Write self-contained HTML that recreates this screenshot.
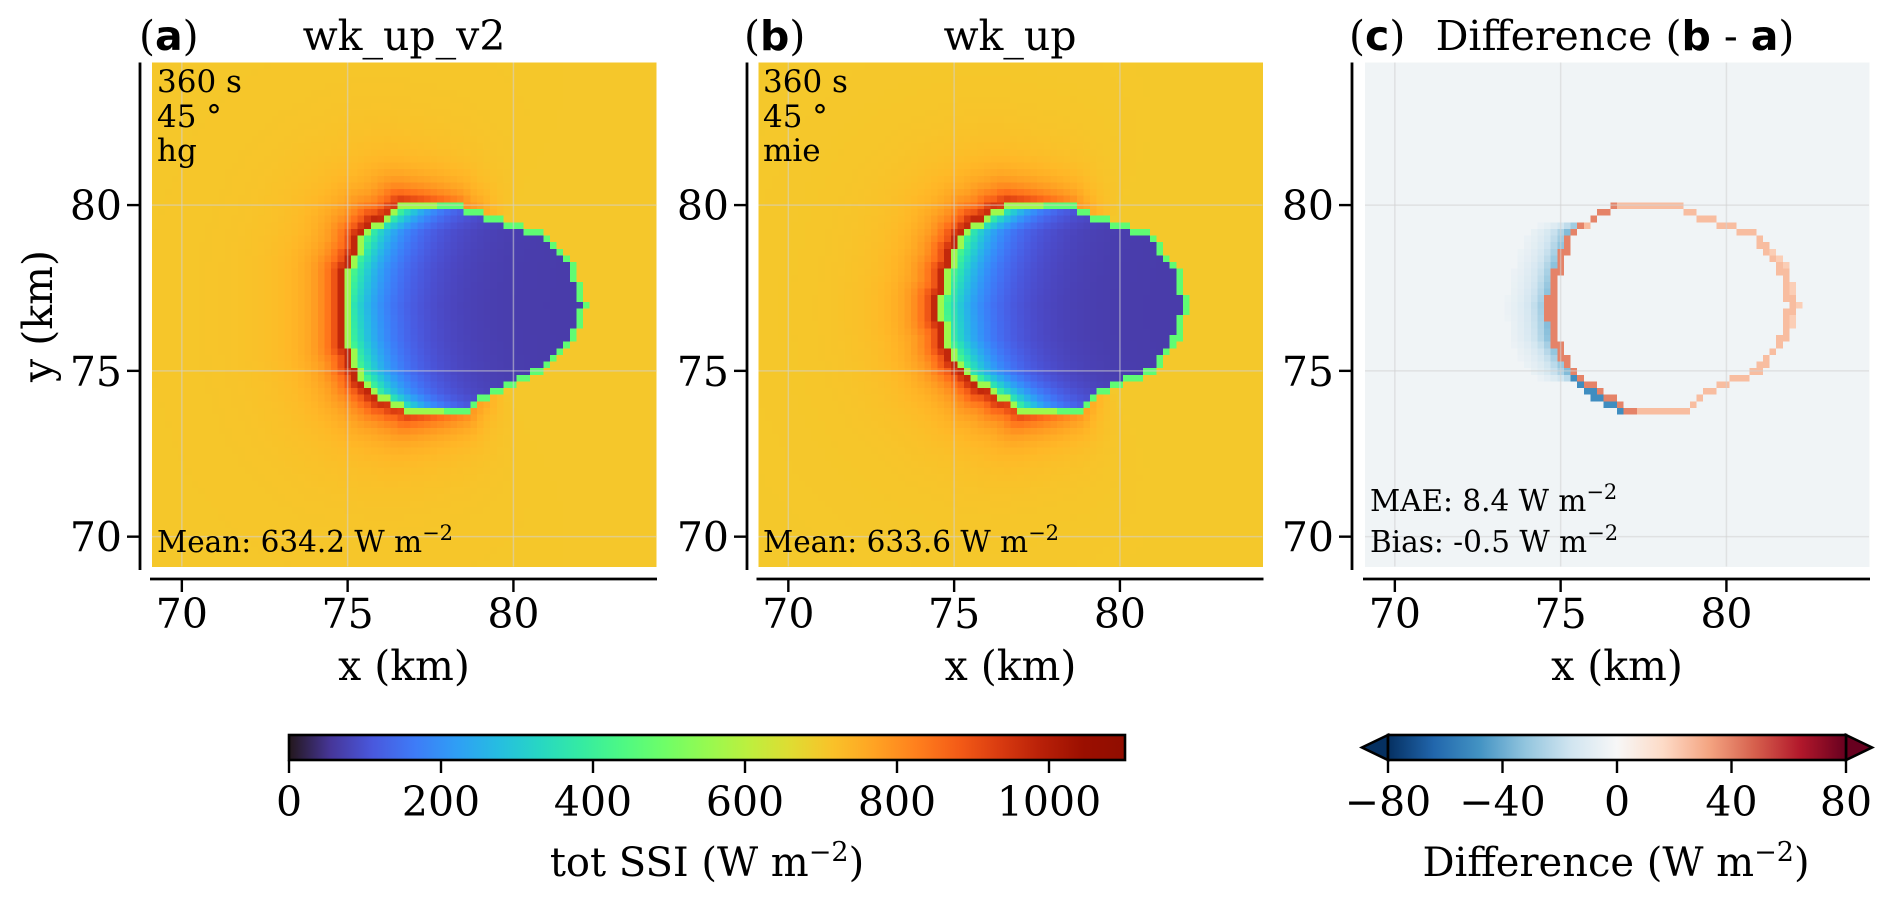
<!DOCTYPE html>
<html><head><meta charset="utf-8"><style>
html,body{margin:0;padding:0;background:#fff}
svg{display:block}
text{font-family:"DejaVu Serif","Liberation Serif",serif;fill:#000}
.b{font-family:"DejaVu Sans","Liberation Sans",sans-serif;font-weight:bold}
</style></head><body>
<svg id="fig" width="1892" height="901" viewBox="0 0 1892 901" xmlns="http://www.w3.org/2000/svg">
<defs>
<linearGradient id="turboGrad" x1="0" x2="1" y1="0" y2="0"></linearGradient>
<linearGradient id="rdbuGrad" x1="0" x2="1" y1="0" y2="0"></linearGradient>
</defs>
<g id="panels"></g>
<!-- titles -->
<text x="139" y="50" font-size="41">(<tspan class="b">a</tspan>)</text>
<text x="404" y="50" font-size="41" text-anchor="middle">wk_up_v2</text>
<text x="744" y="50" font-size="41">(<tspan class="b">b</tspan>)</text>
<text x="1010" y="50" font-size="41" text-anchor="middle">wk_up</text>
<text x="1349" y="50" font-size="41">(<tspan class="b">c</tspan>)</text>
<text x="1615" y="50" font-size="41" text-anchor="middle">Difference (<tspan class="b">b</tspan> - <tspan class="b">a</tspan>)</text>
<!-- annotations -->
<g font-size="31">
<text x="157" y="92">360 s</text>
<text x="157" y="127">45 °</text>
<text x="157" y="161">hg</text>
<text x="157" y="552" font-size="29.5">Mean: 634.2 W m<tspan dy="-12" font-size="21">−2</tspan></text>
<text x="763" y="92">360 s</text>
<text x="763" y="127">45 °</text>
<text x="763" y="161">mie</text>
<text x="763" y="552" font-size="29.5">Mean: 633.6 W m<tspan dy="-12" font-size="21">−2</tspan></text>
<text x="1370" y="511" font-size="29.5">MAE: 8.4 W m<tspan dy="-12" font-size="21">−2</tspan></text>
<text x="1370" y="552" font-size="29.5">Bias: -0.5 W m<tspan dy="-12" font-size="21">−2</tspan></text>
</g>
<text transform="translate(52,316) rotate(-90)" font-size="41" text-anchor="middle">y (km)</text>
<!-- colorbars -->
<g id="cbars"></g>
<text x="707" y="876" font-size="40" text-anchor="middle">tot SSI (W m<tspan dy="-15" font-size="27">−2</tspan><tspan dy="15">)</tspan></text>
<text x="1616" y="876" font-size="40" text-anchor="middle">Difference (W m<tspan dy="-15" font-size="27">−2</tspan><tspan dy="15">)</tspan></text>
</svg>
<script>
// ---- data ----
const xTicks = [70, 75, 80];
const yTicks = [70, 75, 80];
const ssiTicks = [0, 200, 400, 600, 800, 1000];
const diffTicks = [-80, -40, 0, 40, 80];
const shadowRowY = [80.0, 79.2, 78.1, 77.0, 76.0, 75.0, 74.35, 73.8];
const shadowLeftA = [76.6, 75.45, 75.0, 74.8, 74.9, 75.2, 75.7, 76.65];
const shadowRightA = [78.4, 80.9, 81.9, 82.2, 81.9, 80.95, 79.5, 78.7];
const shadowLeftB = [76.5, 75.2, 74.8, 74.55, 74.65, 75.2, 76.15, 76.95];
const shadowRightB = [78.6, 80.9, 81.8, 82.1, 81.8, 81.1, 79.5, 78.8];
const backgroundSSI = [705, 703];
const meanDiff = -3;

const NS = "http://www.w3.org/2000/svg";
const DMIN = 69.1, DMAX = 84.3, TOP = 62.5, SIZE = 504;
const panelLeft = [152, 758.5, 1365];
const spineX = [140, 747, 1352];
function X(p, km) { return panelLeft[p] + (km - DMIN) / (DMAX - DMIN) * SIZE; }
function Y(km) { return TOP + (DMAX - km) / (DMAX - DMIN) * SIZE; }
function turbo(t) {
  t = Math.max(0, Math.min(1, t));
  const r = 0.13572138 + t*(4.61539260 + t*(-42.66032258 + t*(132.13108234 + t*(-152.94239396 + t*59.28637943))));
  const g = 0.09140261 + t*(2.19418839 + t*(4.84296658 + t*(-14.18503333 + t*(4.27729857 + t*2.82956604))));
  const b = 0.10667330 + t*(12.64194608 + t*(-60.58204836 + t*(110.36276771 + t*(-89.90310912 + t*27.34824973))));
  const c = v => Math.round(Math.max(0, Math.min(1, v)) * 255);
  return `rgb(${c(r)},${c(g)},${c(b)})`;
}
const rdbuStops = ["#053061","#2166ac","#4393c3","#92c5de","#d1e5f0","#f7f7f7","#fddbc7","#f4a582","#d6604d","#b2182b","#67001f"];
function hex(h){return [parseInt(h.substr(1,2),16),parseInt(h.substr(3,2),16),parseInt(h.substr(5,2),16)];}
function rdbu(v) {
  let t = Math.max(0, Math.min(1, (v + 80) / 160)) * 10;
  const i = Math.min(9, Math.floor(t)), f = t - i;
  const a = hex(rdbuStops[i]), b = hex(rdbuStops[i+1]);
  return `rgb(${a.map((x,k)=>Math.round(x+(b[k]-x)*f)).join(",")})`;
}
function edges(yc, L, R) {
  if (yc > shadowRowY[0] + 0.1 || yc < shadowRowY[shadowRowY.length-1] - 0.1) return null;
  for (let i = 0; i < shadowRowY.length - 1; i++) {
    const y0 = shadowRowY[i], y1 = shadowRowY[i+1];
    if (yc <= y0 + 0.1 && yc >= y1) {
      const f = Math.max(0, Math.min(1, (y0 - yc) / (y0 - y1)));
      return [L[i] + (L[i+1]-L[i])*f, R[i] + (R[i+1]-R[i])*f];
    }
  }
  const n = shadowRowY.length - 1;
  return [L[n], R[n]];
}
const N = 76, STEP = 0.2;
const centers = []; for (let i = 0; i < N; i++) centers.push(DMIN + 0.1 + STEP * i);
function buildField(L, R, bg) {
  const mask = [], le = [];
  for (let j = 0; j < N; j++) {
    const e = edges(centers[j], L, R); le.push(e);
    mask.push(centers.map(x => e ? (x >= e[0] && x <= e[1]) : false));
  }
  const pts = [];
  for (let j = 0; j < N; j++) for (let i = 0; i < N; i++) if (mask[j][i]) pts.push([centers[i], centers[j]]);
  const val = [];
  for (let j = 0; j < N; j++) {
    const row = [];
    for (let i = 0; i < N; i++) {
      const x = centers[i], y = centers[j];
      if (mask[j][i]) {
        const e = le[j]; const d = x - e[0];
        let v = 65 + 440 * Math.exp(-d / 1.0);
        const rim = Math.min(x - e[0], e[1] - x) < 0.2 || !mask[j-1]?.[i] || !mask[j+1]?.[i];
        if (rim) v = Math.max(v, d < 1.2 ? 560 : 470);
        row.push(v);
      } else {
        let md = 1e9;
        for (const p of pts) { const dd = (p[0]-x)**2 + (p[1]-y)**2; if (dd < md) md = dd; }
        md = Math.sqrt(md);
        const dirx = (x - 78.3) / Math.max(0.1, Math.hypot(x - 78.3, y - 77));
        const fac = Math.max(0, Math.min(1, (0.5 - dirx) / 1.2));
        row.push(bg + 300 * fac * Math.exp(-md / 0.45) + 90 * fac * Math.exp(-md / 1.3));
      }
    }
    val.push(row);
  }
  return {val, mask, le};
}
const A = buildField(shadowLeftA, shadowRightA, backgroundSSI[0]);
const B = buildField(shadowLeftB, shadowRightB, backgroundSSI[1]);

const panels = document.getElementById("panels");
function mk(tag, attrs, parent) { const e = document.createElementNS(NS, tag); for (const k in attrs) e.setAttribute(k, attrs[k]); (parent||panels).appendChild(e); return e; }
const cs = SIZE / N;
function drawHeat(p, colorFn, valueAt, name) {
  const g = mk("g", {"shape-rendering": "crispEdges"});
  
  
  for (let j = 0; j < N; j++) for (let i = 0; i < N; i++) {
    const r = mk("rect", {x: (X(p, centers[i] - 0.1)).toFixed(2), y: (Y(centers[j] + 0.1)).toFixed(2), width: (cs + 0.6).toFixed(2), height: (cs + 0.6).toFixed(2), fill: colorFn(valueAt(j, i))}, g);
    
    
  }
}
drawHeat(0, v => turbo(v / 1100), (j, i) => A.val[j][i], 'ssi-heatmap-a');
drawHeat(1, v => turbo(v / 1100), (j, i) => B.val[j][i], 'ssi-heatmap-b');
drawHeat(2, rdbu, (j, i) => {
  const x = centers[i], y = centers[j];
  let v = meanDiff;
  const inA = A.mask[j][i], inB = B.mask[j][i];
  if (inB) {
    const e = B.le[j];
    const near = Math.min(x - e[0], e[1] - x);
    const vert = !B.mask[j-1]?.[i] || !B.mask[j+1]?.[i];
    if (near < 0.25 || vert) v = (x - e[0] < 0.25) ? 40 : 25;
  } else if (inA) v = (x > 78) ? 20 : -50;
  else {
    const e = B.le[j];
    if (e && x < e[0] && e[0] - x < 1.2 && y < 79.4 && y > 74.6) v = -35 * Math.exp(-(e[0] - x) / 0.6);
  }
  return v;
}, 'difference-heatmap');

// grid lines, axes
for (let p = 0; p < 3; p++) {
  for (const t of xTicks) { const l = mk("line", {x1: X(p,t), x2: X(p,t), y1: TOP, y2: TOP+SIZE, stroke: "rgba(210,210,210,0.55)", "stroke-width": 1.5});   }
  for (const t of yTicks) { const l = mk("line", {x1: panelLeft[p], x2: panelLeft[p]+SIZE, y1: Y(t), y2: Y(t), stroke: "rgba(210,210,210,0.55)", "stroke-width": 1.5});   }
  const ys = mk("line", {x1: spineX[p], x2: spineX[p], y1: TOP, y2: 570, stroke: "#000", "stroke-width": 2.8});
   
  const xs = mk("line", {x1: panelLeft[p] - 2, x2: panelLeft[p] + SIZE + 1, y1: 579, y2: 579, stroke: "#000", "stroke-width": 2.8});
   
  for (const t of xTicks) {
    mk("line", {x1: X(p,t), x2: X(p,t), y1: 579, y2: 592, stroke: "#000", "stroke-width": 2.4});
    const tx = mk("text", {x: X(p,t), y: 628, "font-size": 41, "text-anchor": "middle"}); tx.textContent = t;
     
  }
  for (const t of yTicks) {
    mk("line", {x1: spineX[p] - 13, x2: spineX[p], y1: Y(t), y2: Y(t), stroke: "#000", "stroke-width": 2.4});
    const tx = mk("text", {x: spineX[p] - 18, y: Y(t) + 15, "font-size": 41, "text-anchor": "end"}); tx.textContent = t;
     
  }
  const xl = mk("text", {x: panelLeft[p] + SIZE/2, y: 680, "font-size": 41, "text-anchor": "middle"}); xl.textContent = "x (km)";
   
}

// colorbars
const tg = document.getElementById("turboGrad");
for (let k = 0; k <= 20; k++) mk("stop", {offset: k/20, "stop-color": turbo(k/20)}, tg);
const rg = document.getElementById("rdbuGrad");
for (let k = 0; k <= 20; k++) mk("stop", {offset: k/20, "stop-color": rdbu(-80 + 8*k)}, rg);
const cb = document.getElementById("cbars");
const CB1L = 289, CB1R = 1125, CBT = 735, CBB = 760;
function C1(v) { return CB1L + v / 1100 * (CB1R - CB1L); }
const r1 = mk("rect", {x: CB1L, y: CBT, width: CB1R-CB1L, height: CBB-CBT, fill: "url(#turboGrad)", stroke: "#000", "stroke-width": 2.6}, cb);
 
for (const t of ssiTicks) {
  mk("line", {x1: C1(t), x2: C1(t), y1: CBB, y2: 773, stroke: "#000", "stroke-width": 2.4}, cb);
  const tx = mk("text", {x: C1(t), y: 816, "font-size": 41, "text-anchor": "middle"}, cb); tx.textContent = t;
   
}
const CB2L = 1388, CB2R = 1846;
function C2(v) { return CB2L + (v + 80) / 160 * (CB2R - CB2L); }
const mid = (CBT + CBB) / 2;
const lt = mk("polygon", {points: `${CB2L},${CBT} 1362,${mid} ${CB2L},${CBB}`, fill: "#053061", stroke: "#000", "stroke-width": 2.6}, cb);
 
const rt = mk("polygon", {points: `${CB2R},${CBT} 1872,${mid} ${CB2R},${CBB}`, fill: "#67001f", stroke: "#000", "stroke-width": 2.6}, cb);
 
const r2 = mk("rect", {x: CB2L, y: CBT, width: CB2R-CB2L, height: CBB-CBT, fill: "url(#rdbuGrad)", stroke: "#000", "stroke-width": 2.6}, cb);
 
for (const t of diffTicks) {
  mk("line", {x1: C2(t), x2: C2(t), y1: CBB, y2: 773, stroke: "#000", "stroke-width": 2.4}, cb);
  const tx = mk("text", {x: C2(t), y: 816, "font-size": 41, "text-anchor": "middle"}, cb); tx.textContent = t < 0 ? "−" + Math.abs(t) : t;
   
}
</script>
</body></html>
